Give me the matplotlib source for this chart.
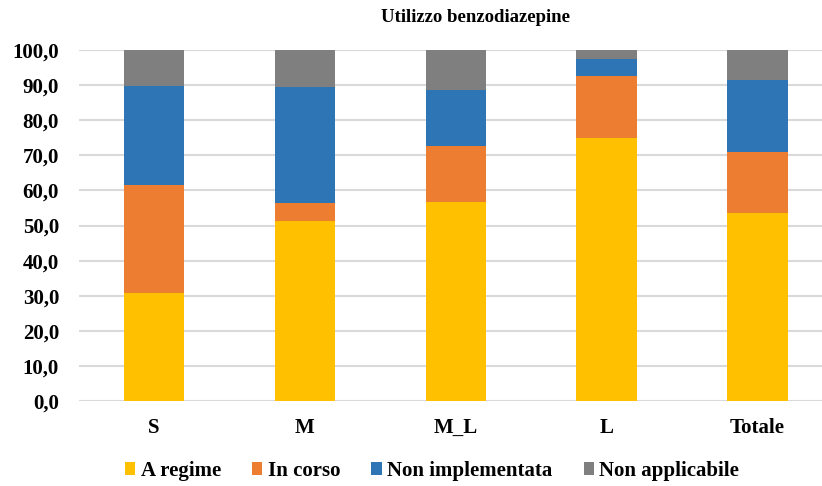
import numpy as np
import matplotlib.pyplot as plt
from matplotlib.patches import Patch

# Data (percent)
categories = ['S', 'M', 'M_L', 'L', 'Totale']
a_regime = [30.8, 51.3, 56.7, 74.9, 53.6]
in_corso = [30.7, 5.1, 15.9, 17.6, 17.4]
non_implementata = [28.3, 33.2, 15.9, 5.0, 20.4]
non_applicabile = [10.2, 10.4, 11.5, 2.5, 8.6]

series = [
    ('A regime', a_regime, '#FFC000'),
    ('In corso', in_corso, '#ED7D31'),
    ('Non implementata', non_implementata, '#2E75B6'),
    ('Non applicabile', non_applicabile, '#7F7F7F'),
]

plt.rcParams['font.family'] = ['Liberation Serif', 'DejaVu Serif']
plt.rcParams['font.weight'] = 'bold'

fig = plt.figure(figsize=(8.22, 4.86), dpi=100)
W, H = 822, 486
left, right = 78.5, 833
top, bottom = 50, 401
ax = fig.add_axes([left / W, 1 - bottom / H, (right - left) / W, (bottom - top) / H])

x = np.arange(len(categories))
base = np.zeros(len(categories))
handles = []
for name, vals, color in series:
    ax.bar(x, vals, 0.4, bottom=base, color=color, zorder=3)
    base += np.array(vals)
    handles.append(Patch(facecolor=color, label=name))

ax.set_xlim(-0.5, 4.5)
ax.set_ylim(0, 100)
ax.set_yticks(np.arange(0, 101, 10))
ax.set_yticklabels([f'{v:.1f}'.replace('.', ',') for v in np.arange(0, 101, 10)])
ax.set_xticks(x)
ax.set_xticklabels(categories)
ax.tick_params(axis='both', length=0, labelsize=15)
ax.tick_params(axis='y', pad=14)
ax.tick_params(axis='x', pad=12)
ax.grid(axis='y', color='#d9d9d9', linewidth=1.5, zorder=0)
for s in ax.spines.values():
    s.set_visible(False)

fig.text(475 / W, 1 - 17 / H, 'Utilizzo benzodiazepine', ha='center', va='center',
         fontsize=13.5, fontweight='bold')

fig.legend(handles=handles, loc='center', bbox_to_anchor=(432 / W, 1 - 471 / H), ncol=4,
           frameon=False, fontsize=15, handlelength=0.5, handleheight=0.55,
           handletextpad=0.25, columnspacing=1.5)

fig.savefig('out.png', dpi=100)
